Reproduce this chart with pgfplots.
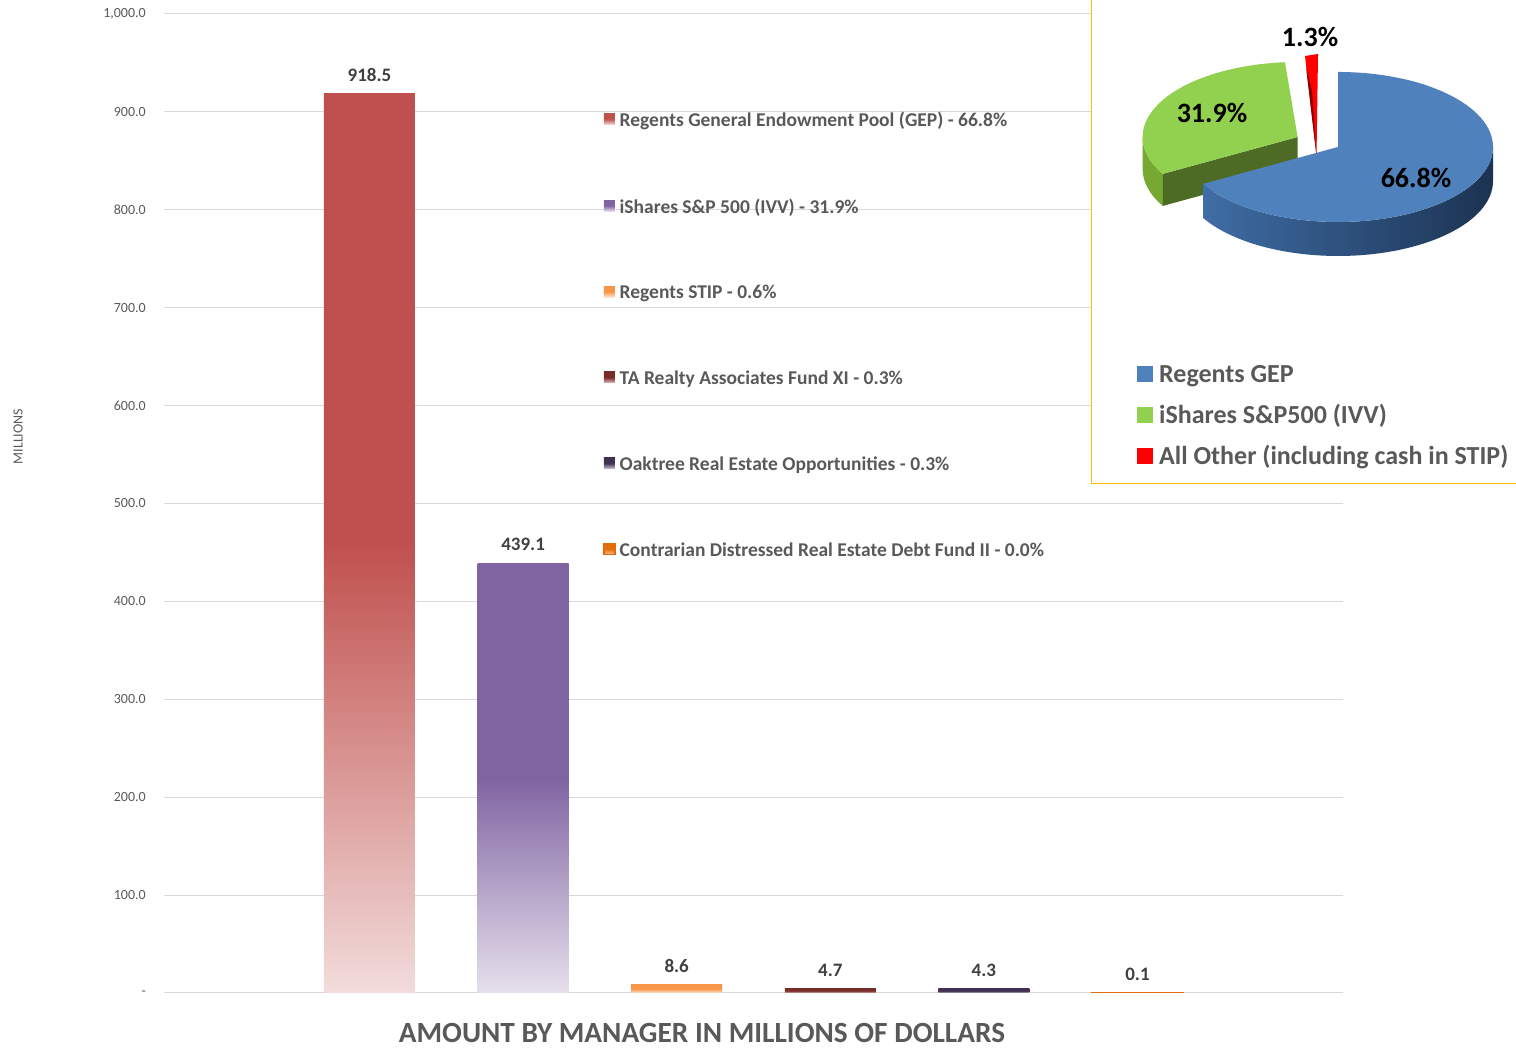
\documentclass[border=0pt]{standalone}
\usepackage{pgfplots}
\pgfplotsset{compat=1.18}
\usepackage{fontspec}
\setmainfont{Carlito}

\definecolor{txt}{HTML}{595959}
\definecolor{lbl}{HTML}{404040}
\definecolor{gridc}{HTML}{D9D9D9}
\definecolor{cA}{HTML}{C0504D}\definecolor{cAl}{HTML}{F2DCDB}
\definecolor{cB}{HTML}{8064A2}\definecolor{cBl}{HTML}{E6E0EC}
\definecolor{cC}{HTML}{F79646}\definecolor{cCl}{HTML}{FDE9D9}
\definecolor{cD}{HTML}{772C2A}\definecolor{cDl}{HTML}{E6B9B8}
\definecolor{cE}{HTML}{403152}\definecolor{cEl}{HTML}{CCC1DA}
\definecolor{cF}{HTML}{E36C09}\definecolor{cFl}{HTML}{FAC090}
\definecolor{pb}{HTML}{4F81BD}\definecolor{pbm}{HTML}{3F6DA5}\definecolor{pbd}{HTML}{1C3352}
\definecolor{pg}{HTML}{92D050}\definecolor{pgm}{HTML}{76A832}\definecolor{pgd}{HTML}{4E6B25}
\definecolor{pr}{HTML}{FF0000}\definecolor{prd}{HTML}{8B0000}
\definecolor{insetgold}{RGB}{255,192,0}

\pgfdeclareverticalshading{shA}{100bp}{color(0bp)=(cAl); color(25bp)=(cAl); color(50bp)=(cA); color(100bp)=(cA)}
\pgfdeclareverticalshading{shB}{100bp}{color(0bp)=(cBl); color(25bp)=(cBl); color(50bp)=(cB); color(100bp)=(cB)}
\pgfdeclareverticalshading{shC}{100bp}{color(0bp)=(cCl); color(25bp)=(cCl); color(50bp)=(cC); color(100bp)=(cC)}
\pgfdeclareverticalshading{shD}{100bp}{color(0bp)=(cDl); color(25bp)=(cDl); color(50bp)=(cD); color(100bp)=(cD)}
\pgfdeclareverticalshading{shE}{100bp}{color(0bp)=(cEl); color(25bp)=(cEl); color(50bp)=(cE); color(100bp)=(cE)}
\pgfdeclareverticalshading{shF}{100bp}{color(0bp)=(cFl); color(25bp)=(cFl); color(50bp)=(cF); color(100bp)=(cF)}

% pie shares (percent)
\def\pGEP{66.8}\def\pIVV{31.9}\def\pOTH{1.3}
\pgfmathsetmacro\aB{90-3.6*\pGEP}
\pgfmathsetmacro\aG{\aB-3.6*\pIVV}
\pgfmathsetmacro\aBp{\aB+360}
\pgfmathsetmacro\aGp{\aG+360}

\begin{document}
\begin{tikzpicture}[x=1pt,y=1pt]
\useasboundingbox (0,0) rectangle (1516,1049);
\begin{axis}[
  at={(164pt,56pt)}, anchor=south west,
  scale only axis, width=1179pt, height=979pt,
  xmin=-1.3379, xmax=6.3379, ymin=0, ymax=1000,
  xtick=\empty,
  ytick={0,100,200,300,400,500,600,700,800,900,1000},
  yticklabels={{-\hspace{10pt}},{100.0},{200.0},{300.0},{400.0},{500.0},{600.0},{700.0},{800.0},{900.0},{1,000.0}},
  yticklabel style={font=\fontsize{14}{14}\selectfont, text=txt, inner sep=0pt, anchor=east, xshift=-18pt},
  ymajorgrids, grid style={draw=gridc, line width=1pt},
  axis line style={draw=none}, major tick length=0pt,
  ylabel={MILLIONS},
  ylabel style={at={(axis description cs:-0.1238,0.5684)}, anchor=center, rotate=0, font=\fontsize{14}{14}\selectfont, text=txt},
  xlabel={AMOUNT BY MANAGER IN MILLIONS OF DOLLARS},
  xlabel style={at={(axis description cs:0.4563,-0.0409)}, anchor=center, font=\bfseries\fontsize{29.3}{29.3}\selectfont, text=txt},
  ybar, bar width=91pt,
  /pgf/number format/assume math mode=true,
  nodes near coords={\pgfmathprintnumber[fixed,fixed zerofill,precision=1]{\pgfplotspointmeta}},
  nodes near coords style={font=\bfseries\fontsize{19}{19}\selectfont, text=lbl, anchor=south, inner sep=0pt, yshift=12pt},
  legend image code/.code={\fill[#1] (0pt,-4.5pt) rectangle (11pt,6.5pt); \path (15pt,0pt);},
  legend style={at={(rel axis cs:0.3698,0.902)}, anchor=north west, draw=none, fill=none,
    font=\bfseries\fontsize{19.5}{19.5}\selectfont, text=txt, row sep=70.6pt,
    nodes={inner sep=0pt}, cells={anchor=west}},
]
\addplot[bar shift=0pt, draw=none, shade, shading=shA] coordinates {(0,918.5)};
\addlegendentry{Regents General Endowment Pool (GEP) - 66.8\%}
\addplot[bar shift=0pt, draw=none, shade, shading=shB] coordinates {(1,439.1)};
\addlegendentry{iShares S\&P 500 (IVV) - 31.9\%}
\addplot[bar shift=0pt, draw=none, shade, shading=shC] coordinates {(2,8.6)};
\addlegendentry{Regents STIP - 0.6\%}
\addplot[bar shift=0pt, draw=none, shade, shading=shD] coordinates {(3,4.7)};
\addlegendentry{TA Realty Associates Fund XI - 0.3\%}
\addplot[bar shift=0pt, draw=none, shade, shading=shE] coordinates {(4,4.3)};
\addlegendentry{Oaktree Real Estate Opportunities - 0.3\%}
\addplot[bar shift=0pt, draw=cF, line width=1.5pt, shade, shading=shF] coordinates {(5,0.1)};
\addlegendentry{Contrarian Distressed Real Estate Debt Fund II - 0.0\%}
\end{axis}

% inset with the pie chart
\begin{axis}[
  at={(0pt,0pt)}, anchor=south west,
  scale only axis, width=1516pt, height=1049pt,
  xmin=0, xmax=1516, ymin=0, ymax=1049, hide axis, clip=false,
]
\fill[white] (1091,565) rectangle (1516,1049);
% red slice (All other)
\fill[pr] (1305,993) -- (1318,995) -- (1316.5,893) -- cycle;
\fill[prd] (1306,982) -- (1312,958) -- (1316.5,893) -- cycle;
% green slice (IVV)
\fill[pgm] ({1297.6-155},912) arc[start angle=180, end angle=\aBp, x radius=155pt, y radius=75pt] -- ++(0pt,-32pt) arc[start angle=\aBp, end angle=180, x radius=155pt, y radius=75pt] -- cycle;
\fill[pgd] (1297.6,912) -- ({1297.6+155*cos(\aB)},{912+75*sin(\aB)}) -- ++(0pt,-32pt) -- (1297.6,880) -- cycle;
\fill[pg] (1297.6,912) -- ({1297.6+155*cos(\aG)},{912+75*sin(\aG)}) arc[start angle=\aGp, end angle=\aBp, x radius=155pt, y radius=75pt] -- cycle;
% blue slice (GEP)
\shade[left color=pbm, right color=pbd] ({1338+155*cos(\aB)},{902+75*sin(\aB)}) arc[start angle=\aB, end angle=0, x radius=155pt, y radius=75pt] -- ++(0pt,-34pt) arc[start angle=0, end angle=\aB, x radius=155pt, y radius=75pt] -- cycle;
\fill[pb] (1338,902) -- (1338,977) arc[start angle=90, end angle=\aB, x radius=155pt, y radius=75pt] -- cycle;
% labels
\node[font=\bfseries\fontsize{28}{28}\selectfont, text=black] at (1416,871) {66.8\%};
\node[font=\bfseries\fontsize{28}{28}\selectfont, text=black] at (1212,936) {31.9\%};
\node[font=\bfseries\fontsize{28}{28}\selectfont, text=black] at (1310,1012) {1.3\%};
% pie legend
\fill[pb] (1137,667) rectangle (1153,683);
\fill[pg] (1137,626) rectangle (1153,642);
\fill[pr] (1137,585) rectangle (1153,601);
\node[anchor=base west, inner sep=0pt, font=\bfseries\fontsize{26}{26}\selectfont, text=txt] at (1159,666.6) {Regents GEP};
\node[anchor=base west, inner sep=0pt, font=\bfseries\fontsize{26}{26}\selectfont, text=txt] at (1159,625.6) {iShares S\&P500 (IVV)};
\node[anchor=base west, inner sep=0pt, font=\bfseries\fontsize{26}{26}\selectfont, text=txt] at (1159,584.6) {All Other (including cash in STIP)};
\end{axis}
\fill[insetgold] (1090.8,1049) rectangle (1092.3,564.8);
\fill[insetgold] (1090.8,564.8) rectangle (1516,566.3);
\end{tikzpicture}
\end{document}
